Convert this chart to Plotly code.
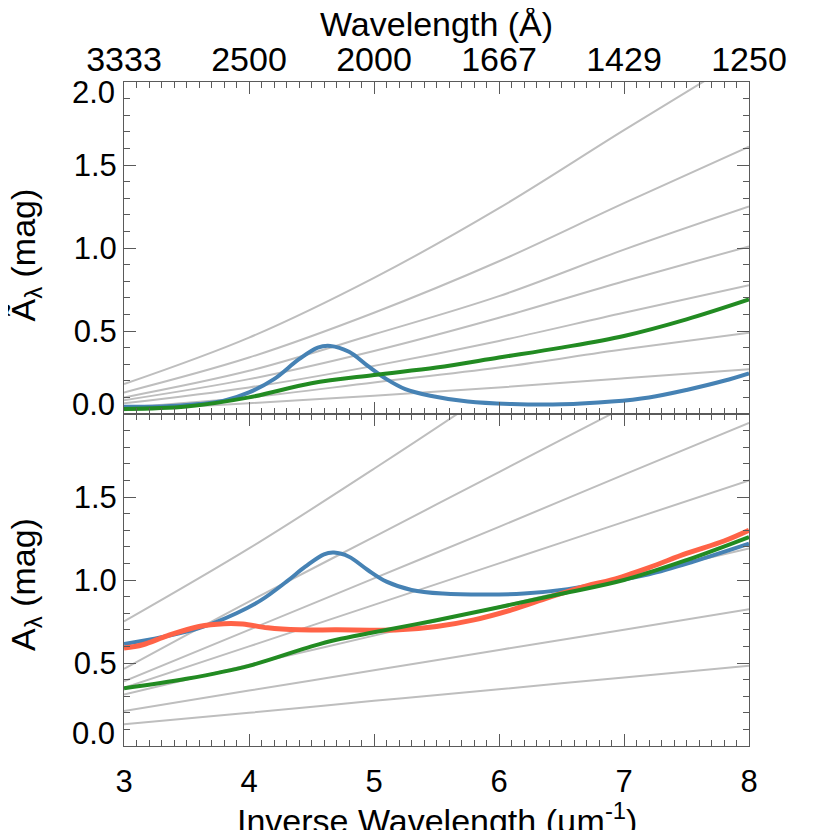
import plotly.graph_objects as go

# ---- data ----
x_grid = [3, 4, 5, 6, 7, 8]

# top panel: grey model family (A-tilde)
top_grey = [
    [0.18, 0.46, 0.82, 1.24, 1.71, 2.17],
    [0.13, 0.34, 0.61, 0.92, 1.27, 1.61],
    [0.10, 0.26, 0.48, 0.71, 0.99, 1.25],
    [0.083, 0.21, 0.38, 0.58, 0.80, 1.01],
    [0.064, 0.16, 0.29, 0.44, 0.61, 0.775],
    [0.04, 0.10, 0.19, 0.28, 0.39, 0.49],
    [0.022, 0.065, 0.11, 0.16, 0.215, 0.27],
]

# bottom panel: grey model family (A)
bottom_grey = [
    [0.75, 1.19, 1.67, 2.17, 2.70, 3.25],
    [0.465, 0.87, 1.26, 1.65, 2.04, 2.43],
    [0.39, 0.70, 1.01, 1.32, 1.635, 1.947],
    [0.35, 0.60, 0.85, 1.10, 1.35, 1.60],
    [0.31, 0.49, 0.665, 0.84, 1.015, 1.19],
    [0.211, 0.334, 0.456, 0.579, 0.70, 0.824],
    [0.131, 0.20, 0.272, 0.342, 0.413, 0.483],
]

blue_top_x = [3.0, 3.3, 3.6, 3.8, 4.0, 4.2, 4.4, 4.55, 4.65, 4.8, 4.95,
              5.1, 5.25, 5.45, 5.75, 6.1, 6.5, 6.9, 7.2, 7.5, 7.8, 8.0]
blue_top_y = [0.044, 0.045, 0.06, 0.08, 0.13, 0.21, 0.33, 0.40, 0.41, 0.375,
              0.29, 0.21, 0.15, 0.11, 0.075, 0.06, 0.058, 0.075, 0.10, 0.145,
              0.20, 0.245]

green_top_x = [3.0, 3.5, 4.0, 4.5, 5.0, 5.5, 6.0, 6.5, 7.0, 7.5, 8.0]
green_top_y = [0.03, 0.045, 0.10, 0.185, 0.235, 0.28, 0.34, 0.40, 0.47, 0.57,
               0.69]

blue_bot_x = [3.0, 3.3, 3.6, 3.9, 4.1, 4.3, 4.45, 4.6, 4.68, 4.8, 4.95, 5.1,
              5.3, 5.55, 5.9, 6.2, 6.55, 6.9, 7.2, 7.55, 8.0]
blue_bot_y = [0.614, 0.655, 0.71, 0.80, 0.88, 0.99, 1.08, 1.155, 1.165, 1.14,
              1.06, 0.99, 0.94, 0.918, 0.912, 0.918, 0.945, 0.99, 1.035,
              1.11, 1.219]

red_bot_x = [3.0, 3.15, 3.35, 3.6, 3.8, 3.95, 4.15, 4.4, 4.7, 5.0, 5.2, 5.5,
             5.8, 6.1, 6.4, 6.7, 6.9, 7.2, 7.5, 7.8, 8.0]
red_bot_y = [0.59, 0.61, 0.665, 0.72, 0.737, 0.735, 0.712, 0.70, 0.70, 0.698,
             0.70, 0.72, 0.76, 0.82, 0.895, 0.965, 1.0, 1.075, 1.16, 1.235,
             1.30]

green_bot_x = [3.0, 3.5, 4.0, 4.5, 4.7, 5.0, 5.5, 6.0, 6.5, 7.0, 7.5, 8.0]
green_bot_y = [0.348, 0.405, 0.483, 0.60, 0.64, 0.685, 0.758, 0.836, 0.917,
               1.0, 1.12, 1.259]

x_ticks = [3, 4, 5, 6, 7, 8]
x_ticktext = ["3", "4", "5", "6", "7", "8"]
wave_ticktext = ["3333", "2500", "2000", "1667", "1429", "1250"]
y_ticks = [0.5, 1.0, 1.5]
y_ticktext = ["0.5", "1.0", "1.5"]

FONT = "Liberation Sans, Arial, Helvetica, sans-serif"
AXIS_COLOR = "#5a5a5a"
GREY = "#bebebe"
BLUE = "#4682b4"
GREEN = "#228b22"
RED = "#ff6347"

fig = go.Figure()

for ys in top_grey:
    fig.add_trace(go.Scatter(x=x_grid, y=ys, mode="lines", xaxis="x2", yaxis="y2",
                             line=dict(color=GREY, width=2, shape="spline")))
fig.add_trace(go.Scatter(x=blue_top_x, y=blue_top_y, mode="lines", xaxis="x2", yaxis="y2",
                         line=dict(color=BLUE, width=4, shape="spline")))
fig.add_trace(go.Scatter(x=green_top_x, y=green_top_y, mode="lines", xaxis="x2", yaxis="y2",
                         line=dict(color=GREEN, width=4, shape="spline")))

for ys in bottom_grey:
    fig.add_trace(go.Scatter(x=x_grid, y=ys, mode="lines",
                             line=dict(color=GREY, width=2, shape="spline")))
fig.add_trace(go.Scatter(x=blue_bot_x, y=blue_bot_y, mode="lines",
                         line=dict(color=BLUE, width=4, shape="spline")))
fig.add_trace(go.Scatter(x=red_bot_x, y=red_bot_y, mode="lines",
                         line=dict(color=RED, width=5, shape="spline")))
fig.add_trace(go.Scatter(x=green_bot_x, y=green_bot_y, mode="lines",
                         line=dict(color=GREEN, width=4, shape="spline")))

axis_common = dict(
    showline=True, linecolor=AXIS_COLOR, linewidth=1, mirror="allticks",
    ticks="inside", ticklen=12, tickcolor=AXIS_COLOR, tickwidth=1,
    showgrid=False, zeroline=False,
    minor=dict(ticks="inside", ticklen=6, tickcolor=AXIS_COLOR, dtick=0.1,
               showgrid=False),
)

# page body adds an 8px offset, margins compensate for it
fig.update_layout(
    width=830, height=830,
    margin=dict(l=116, r=89, t=74, b=92),
    paper_bgcolor="white", plot_bgcolor="white",
    showlegend=False,
    font=dict(family=FONT, color="black"),
    xaxis=dict(axis_common, range=[3, 8], anchor="y", tickvals=x_ticks,
               ticktext=x_ticktext, tickfont=dict(size=31), ticklabelstandoff=8),
    xaxis2=dict(axis_common, range=[3, 8], anchor="y2", side="top",
                tickvals=x_ticks, ticktext=wave_ticktext, tickfont=dict(size=34),
                ticklabelstandoff=-4),
    yaxis=dict(axis_common, range=[0, 2.0], domain=[0, 0.5], anchor="x",
               tickvals=y_ticks, ticktext=y_ticktext, tickfont=dict(size=31)),
    yaxis2=dict(axis_common, range=[0, 2.0], domain=[0.5, 1], anchor="x2",
                tickvals=y_ticks, ticktext=y_ticktext, tickfont=dict(size=31)),
)

# end labels pulled inward, as in the original
edge_labels = [("2.0", "y2", 2.0, -10), ("0.0", "y2", 0.0, 10), ("0.0", "y", 0.0, 13)]
for txt, yref, yv, shift in edge_labels:
    fig.add_annotation(text=txt, xref="paper", x=-0.011, xanchor="right",
                       yref=yref, y=yv, yanchor="middle", yshift=shift,
                       showarrow=False, font=dict(size=31))

fig.add_annotation(text="Wavelength (Å)", xref="paper", x=0.5, xanchor="center",
                   yref="paper", y=1.087, yanchor="middle", showarrow=False,
                   font=dict(size=34))
fig.add_annotation(text="Inverse Wavelength (µm<sup>-1</sup>)", xref="paper", x=0.5,
                   xanchor="center", yref="paper", y=-0.074, yanchor="top",
                   showarrow=False, font=dict(size=34))
fig.add_annotation(text="Ã<sub>λ</sub> (mag)", xref="paper", x=-0.158, xanchor="center",
                   yref="paper", y=0.739, yanchor="middle", textangle=-90,
                   showarrow=False, font=dict(size=34))
fig.add_annotation(text="A<sub>λ</sub> (mag)", xref="paper", x=-0.158, xanchor="center",
                   yref="paper", y=0.243, yanchor="middle", textangle=-90,
                   showarrow=False, font=dict(size=34))

fig.write_html("out.html")
